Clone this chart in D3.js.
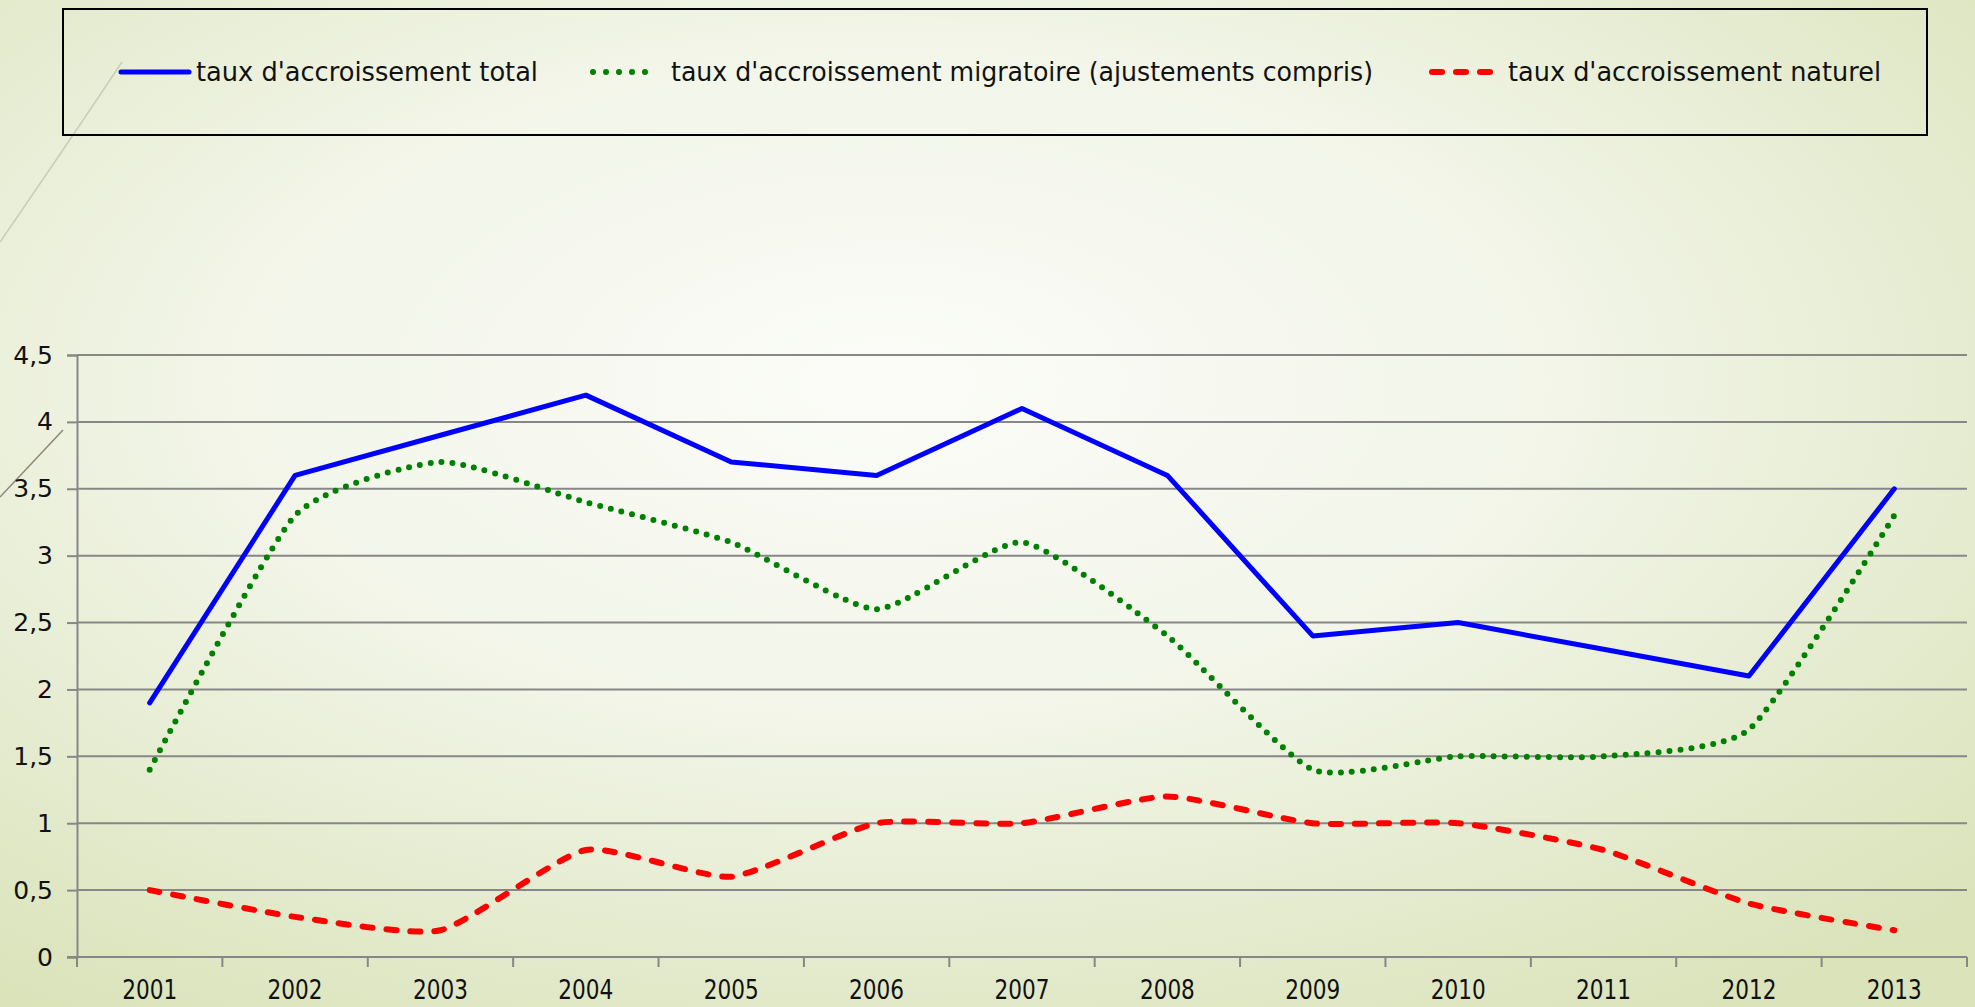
<!DOCTYPE html>
<html>
<head>
<meta charset="utf-8">
<script src="https://cdn.jsdelivr.net/npm/d3@7"></script>
<style>
  html, body { margin: 0; padding: 0; overflow: hidden; }
  svg { display: block; }
  text { font-family: "DejaVu Sans", "Liberation Sans", sans-serif; fill: #111; }
</style>
</head>
<body>
<div id="chart"></div>
<script>
/*
DATA
*/
var years = ["2001", "2002", "2003", "2004", "2005", "2006", "2007",
             "2008", "2009", "2010", "2011", "2012", "2013"];

// taux d'accroissement total
var totalRate = [1.9, 3.6, 3.9, 4.2, 3.7, 3.6, 4.1, 3.6, 2.4, 2.5, 2.3, 2.1, 3.5];
// taux d'accroissement migratoire (ajustements compris)
var migratoryRate = [1.4, 3.3, 3.7, 3.4, 3.1, 2.6, 3.1, 2.4, 1.4, 1.5, 1.5, 1.7, 3.3];
// taux d'accroissement naturel
var naturalRate = [0.5, 0.3, 0.2, 0.8, 0.6, 1.0, 1.0, 1.2, 1.0, 1.0, 0.8, 0.4, 0.2];

var yTicks = [0, 0.5, 1, 1.5, 2, 2.5, 3, 3.5, 4, 4.5];

var seriesNames = [
  "taux d'accroissement total",
  "taux d'accroissement migratoire (ajustements compris)",
  "taux d'accroissement naturel"
];

// Display sizes
var width = 1975,
    height = 1007;

var svg = d3.select("#chart").append("svg")
    .attr("width", width)
    .attr("height", height);

// Background gradient (theme slide)
var defs = svg.append("defs");
var grad = defs.append("radialGradient")
    .attr("id", "bg")
    .attr("cx", "0.45").attr("cy", "0.38")
    .attr("r", "0.75")
    .attr("gradientUnits", "objectBoundingBox");
grad.append("stop").attr("offset", "0").attr("stop-color", "#fbfcf8");
grad.append("stop").attr("offset", "0.45").attr("stop-color", "#f2f5e8");
grad.append("stop").attr("offset", "1").attr("stop-color", "#dae3ba");

svg.append("rect")
    .attr("width", width)
    .attr("height", height)
    .attr("fill", "url(#bg)");

// little decorative theme lines on the left
svg.append("path")
    .attr("d", "M0,242 Q58,158 122,62")
    .attr("fill", "none")
    .attr("stroke", "#cbcbba")
    .attr("stroke-width", 1.5);
svg.append("path")
    .attr("d", "M0,497 L63,430")
    .attr("fill", "none")
    .attr("stroke", "#8d8672")
    .attr("stroke-width", 1.5);

// Scales
var x = d3.scaleBand()
    .domain(years)
    .range([77, 1967])
    .padding(0);

var y = d3.scaleLinear()
    .domain([0, 4.5])
    .range([957, 355]);

function cx(d, i) { return x(years[i]) + x.bandwidth() / 2; }

// Gridlines
svg.append("g")
    .attr("class", "grid")
  .selectAll("line")
  .data(yTicks.slice(1))
  .enter().append("line")
    .attr("x1", 77)
    .attr("x2", 1967)
    .attr("y1", function(d) { return y(d); })
    .attr("y2", function(d) { return y(d); })
    .attr("stroke", "#878787")
    .attr("stroke-width", 2);

// Y axis
var yAxis = d3.axisLeft(y)
    .tickValues(yTicks)
    .tickSize(10)
    .tickPadding(14)
    .tickFormat(function(d) { return String(d).replace(".", ","); });

var gy = svg.append("g")
    .attr("transform", "translate(77,0)")
    .call(yAxis);
gy.select(".domain")
    .attr("stroke", "#878787")
    .attr("stroke-width", 2);
gy.selectAll(".tick line")
    .attr("stroke", "#878787")
    .attr("stroke-width", 2);
gy.selectAll(".tick text")
    .attr("font-size", 25)
    .attr("font-family", "DejaVu Sans")
    .attr("fill", "#111");

// X axis : baseline + ticks between categories
var gx = svg.append("g").attr("class", "xaxis");
gx.append("line")
    .attr("x1", 67).attr("x2", 1967)
    .attr("y1", y(0)).attr("y2", y(0))
    .attr("stroke", "#878787")
    .attr("stroke-width", 2);

var boundaries = years.map(function(d) { return x(d); }).concat([x.range()[1]]);
gx.selectAll("line.tick")
  .data(boundaries)
  .enter().append("line")
    .attr("class", "tick")
    .attr("x1", function(d) { return d; })
    .attr("x2", function(d) { return d; })
    .attr("y1", y(0))
    .attr("y2", y(0) + 10)
    .attr("stroke", "#878787")
    .attr("stroke-width", 2);

gx.selectAll("text")
  .data(years)
  .enter().append("text")
    .attr("x", function(d) { return x(d) + x.bandwidth() / 2 - 27.5; })
    .attr("y", 999)
    .attr("font-size", 26)
    .attr("textLength", 55)
    .attr("lengthAdjust", "spacingAndGlyphs")
    .text(function(d) { return d; });

// Lines
var straight = d3.line()
    .x(cx)
    .y(function(d) { return y(d); });

var smooth = d3.line()
    .x(cx)
    .y(function(d) { return y(d); })
    .curve(d3.curveCardinal.tension(0.45));

svg.append("path")
    .datum(migratoryRate)
    .attr("d", smooth)
    .attr("fill", "none")
    .attr("stroke", "#008000")
    .attr("stroke-width", 6)
    .attr("stroke-linecap", "round")
    .attr("stroke-dasharray", "0,11");

svg.append("path")
    .datum(naturalRate)
    .attr("d", smooth)
    .attr("fill", "none")
    .attr("stroke", "#ff0000")
    .attr("stroke-width", 6)
    .attr("stroke-linecap", "round")
    .attr("stroke-dasharray", "10,14");

svg.append("path")
    .datum(totalRate)
    .attr("d", straight)
    .attr("fill", "none")
    .attr("stroke", "#0000ff")
    .attr("stroke-width", 5)
    .attr("stroke-linecap", "round")
    .attr("stroke-linejoin", "round");

// Legend
var legend = svg.append("g").attr("class", "legend");
legend.append("rect")
    .attr("x", 63).attr("y", 9)
    .attr("width", 1864).attr("height", 126)
    .attr("fill", "none")
    .attr("stroke", "#000")
    .attr("stroke-width", 2);

var legendItems = [
  {x1: 121, x2: 189, tx: 196, tl: 342, color: "#0000ff", w: 5, dash: null},
  {x1: 593, x2: 658, tx: 671, tl: 702, color: "#008000", w: 6, dash: "0,13"},
  {x1: 1432, x2: 1496, tx: 1508, tl: 373, color: "#ff0000", w: 6, dash: "10,14"}
];

legendItems.forEach(function(it, i) {
  legend.append("line")
      .attr("x1", it.x1).attr("x2", it.x2)
      .attr("y1", 72).attr("y2", 72)
      .attr("stroke", it.color)
      .attr("stroke-width", it.w)
      .attr("stroke-linecap", "round")
      .attr("stroke-dasharray", it.dash);
  legend.append("text")
      .attr("x", it.tx)
      .attr("y", 81)
      .attr("font-size", 26)
      .attr("textLength", it.tl)
      .attr("lengthAdjust", "spacingAndGlyphs")
      .text(seriesNames[i]);
});
</script>
</body>
</html>
